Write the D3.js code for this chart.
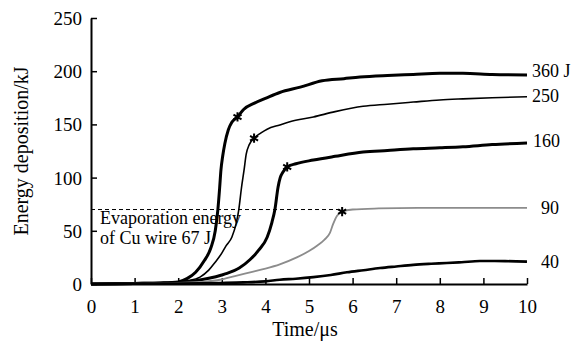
<!DOCTYPE html>
<html>
<head>
<meta charset="utf-8">
<script src="https://cdn.jsdelivr.net/npm/d3@7/dist/d3.min.js"></script>
<style>
  html, body { margin: 0; padding: 0; background: #fff; }
  svg { display: block; }
</style>
</head>
<body>
<svg id="chart" width="579" height="344" font-family="Liberation Serif"></svg>
<script>
// Energy deposited in the Cu wire vs. time, for several stored energies
const xTicks = [0, 1, 2, 3, 4, 5, 6, 7, 8, 9, 10];
const yTicks = [0, 50, 100, 150, 200, 250];

const seriesLabels = ["360 J", "250", "160", "90", "40"];

const t360 = [0, 1.0, 1.6, 2.0, 2.2, 2.4, 2.6, 2.75, 2.85, 2.91, 2.95, 2.98, 3.02, 3.07, 3.15, 3.23, 3.36, 3.5, 3.75, 4.03, 4.33, 4.8, 5.3, 5.8, 6.17, 6.8, 7.39, 8.0, 8.53, 9.2, 10];
const e360 = [0, 0.5, 1, 2, 5, 11, 22, 34, 50, 70, 90, 107, 120, 132, 145, 152, 157, 164, 170, 175, 180, 185, 191, 193, 194.5, 196, 197, 198, 198, 197, 196.5];

const t250 = [0, 1.0, 1.8, 2.2, 2.5, 2.7, 2.84, 3.0, 3.1, 3.23, 3.33, 3.39, 3.45, 3.51, 3.56, 3.63, 3.74, 3.9, 4.04, 4.33, 4.56, 5.1, 5.6, 6.24, 6.8, 7.39, 8.0, 8.53, 9.2, 10];
const e250 = [0, 0.5, 1, 3, 6.5, 13, 20, 29, 36, 44, 57, 70, 90, 107, 122, 131, 137, 142, 145.5, 149.5, 152.5, 157, 162, 167, 169, 171, 173, 174, 175, 176];

const t160 = [0, 1.0, 2.0, 2.4, 2.73, 3.0, 3.12, 3.4, 3.65, 3.85, 4.04, 4.15, 4.22, 4.29, 4.34, 4.4, 4.5, 4.7, 5.1, 5.6, 6.24, 6.8, 7.39, 8.0, 8.53, 9.2, 10];
const e160 = [0, 0.5, 1.5, 3, 5.6, 8.5, 10, 15, 23, 32, 44, 58, 70.5, 91, 100, 105, 110, 113, 116.5, 120, 124, 125.5, 127, 128, 129, 131, 132.5];

const t90 = [0, 1.0, 2.0, 2.5, 2.96, 3.3, 3.65, 4.0, 4.33, 4.72, 5.0, 5.2, 5.35, 5.48, 5.55, 5.64, 5.76, 6.0, 6.6, 7.5, 8.5, 9.3, 10];
const e90 = [0, 0.3, 1, 2, 4, 7.5, 11, 14.5, 18.5, 25, 31, 36.5, 41.5, 48, 56, 64, 68, 70, 71, 71.5, 71.5, 71.5, 71.5];

const t40 = [0, 1, 2, 3, 3.5, 4.0, 4.33, 4.7, 5.1, 5.5, 5.87, 6.25, 6.63, 7.0, 7.39, 7.8, 8.16, 8.5, 8.92, 9.5, 10];
const e40 = [0, 0.2, 0.5, 1, 1.5, 2.5, 4, 5, 6.5, 8.5, 11, 13, 15, 16.5, 18, 19, 19.7, 20.5, 21.6, 21.5, 21];

// Points where each wire reaches evaporation (asterisks)
const starT = [3.36, 3.74, 4.5, 5.76];
const starE = [157, 137, 110, 68];

// Evaporation energy level (dashed line)
const evapLevel = 70;
const evapEnd = 5.76;

const FONT = "Liberation Serif";

const svg = d3.select("#chart");
const x = d3.scaleLinear().domain([0, 10]).range([91, 527]);
const y = d3.scaleLinear().domain([0, 250]).range([284, 18]);

// Axes with inward ticks
const xAxis = svg.append("g")
  .attr("transform", `translate(0,${y(0)})`)
  .call(d3.axisBottom(x).tickValues(xTicks).tickFormat(d3.format("d")).tickSizeInner(-6).tickSizeOuter(0).tickPadding(0));
xAxis.attr("font-family", FONT).attr("font-size", 19);
xAxis.select(".domain").attr("stroke", "#000").attr("stroke-width", 2);
xAxis.selectAll(".tick line").attr("stroke", "#000").attr("stroke-width", 1.5);
xAxis.selectAll(".tick text")
  .attr("y", 29).attr("dy", null)
  .attr("font-family", FONT).attr("font-size", 19).attr("fill", "#000");

const yAxis = svg.append("g")
  .attr("transform", `translate(${x(0)},0)`)
  .call(d3.axisLeft(y).tickValues(yTicks).tickFormat(d3.format("d")).tickSizeInner(-6).tickSizeOuter(0).tickPadding(9));
yAxis.attr("font-family", FONT).attr("font-size", 19);
yAxis.select(".domain").attr("stroke", "#000").attr("stroke-width", 2);
yAxis.selectAll(".tick line").attr("stroke", "#000").attr("stroke-width", 1.5);
yAxis.selectAll(".tick text")
  .attr("dy", "0.34em")
  .attr("font-family", FONT).attr("font-size", 19).attr("fill", "#000");

// Axis titles
svg.append("text")
  .attr("x", 305).attr("y", 336)
  .attr("text-anchor", "middle")
  .attr("font-family", FONT).attr("font-size", 20)
  .text("Time/μs");

svg.append("text")
  .attr("transform", `translate(28,${(y(0) + y(250)) / 2}) rotate(-90)`)
  .attr("text-anchor", "middle")
  .attr("font-family", FONT).attr("font-size", 20)
  .text("Energy deposition/kJ");

// Evaporation level
svg.append("line")
  .attr("x1", x(0)).attr("x2", x(evapEnd))
  .attr("y1", y(evapLevel)).attr("y2", y(evapLevel))
  .attr("stroke", "#000").attr("stroke-width", 1)
  .attr("stroke-dasharray", "4,3");

svg.append("text").attr("x", 100).attr("y", 224)
  .attr("font-family", FONT).attr("font-size", 18).text("Evaporation energy");
svg.append("text").attr("x", 100).attr("y", 244)
  .attr("font-family", FONT).attr("font-size", 18).text("of Cu wire 67 J");

// Curves
const series = [
  { t: t360, e: e360, color: "#000", width: 3 },
  { t: t250, e: e250, color: "#000", width: 1.6 },
  { t: t160, e: e160, color: "#000", width: 3 },
  { t: t90, e: e90, color: "#8c8c8c", width: 1.8 },
  { t: t40, e: e40, color: "#000", width: 2.6 }
];

const line = d3.line()
  .x(d => x(d[0]))
  .y(d => y(d[1]))
  .curve(d3.curveMonotoneX);

series.forEach(s => {
  svg.append("path")
    .datum(s.t.map((tv, i) => [tv, s.e[i]]))
    .attr("fill", "none")
    .attr("stroke", s.color)
    .attr("stroke-width", s.width)
    .attr("stroke-linejoin", "round")
    .attr("d", line);
});

// Evaporation markers
const star = d3.symbol().type(d3.symbolAsterisk).size(60);
starT.forEach((tv, i) => {
  svg.append("path")
    .attr("transform", `translate(${x(tv)},${y(starE[i])})`)
    .attr("d", star)
    .attr("fill", "none")
    .attr("stroke", "#000")
    .attr("stroke-width", 2);
});

// Series labels at the right end
const labelX = [532, 532, 533, 541, 541];
const labelY = [77, 102, 147, 214, 268];
seriesLabels.forEach((lab, i) => {
  svg.append("text")
    .attr("x", labelX[i]).attr("y", labelY[i])
    .attr("font-family", FONT).attr("font-size", 18)
    .text(lab);
});
</script>
</body>
</html>
